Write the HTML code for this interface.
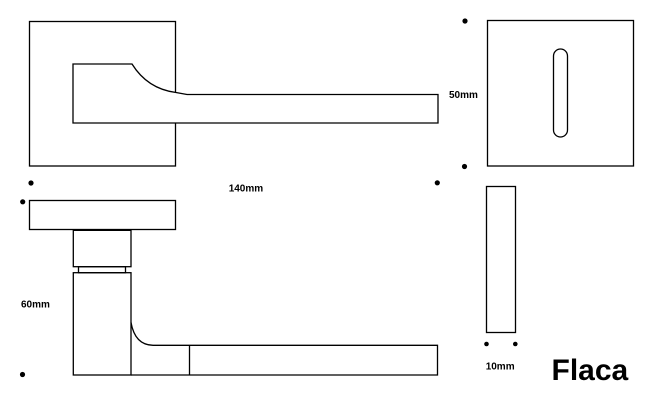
<!DOCTYPE html>
<html>
<head>
<meta charset="utf-8">
<style>
html,body{margin:0;padding:0;background:#fff;}
svg{display:block;}
text{font-family:"Liberation Sans",Arial,sans-serif;font-weight:bold;fill:#000;}
</style>
</head>
<body>
<svg width="650" height="400" viewBox="0 0 650 400" xmlns="http://www.w3.org/2000/svg">
<g fill="none" stroke="#000" stroke-width="1.3">
  <!-- top-left rose -->
  <rect x="29.5" y="21.5" width="146" height="144.5" fill="#fff"/>
  <!-- lever top view -->
  <path d="M73,64 L132,64 C142,80 156,90 176,92.5 L187,94.5 L438,94.5 L438,123 L73,123 Z" fill="#fff"/>
  <!-- top-right escutcheon -->
  <rect x="487.5" y="20.5" width="146" height="145.5"/>
  <rect x="553.5" y="49" width="14" height="88" rx="7" ry="7"/>
  <!-- side view rose bar -->
  <rect x="29.5" y="200.5" width="146" height="29"/>
  <!-- neck -->
  <rect x="73.3" y="230" width="57.7" height="36.7"/>
  <line x1="73.3" y1="230" x2="131" y2="230" stroke-width="2"/>
  <!-- collar -->
  <rect x="78.5" y="266.7" width="47" height="6"/>
  <!-- lower body -->
  <rect x="73.3" y="272.7" width="57.7" height="102.3"/>
  <!-- lever side -->
  <path d="M131,322.5 Q135,345 153,345.3 L437.5,345.3 L437.5,375 L131,375"/>
  <line x1="189.5" y1="345.3" x2="189.5" y2="375"/>
  <!-- right narrow rect -->
  <rect x="486.5" y="186.5" width="29" height="146"/>
</g>
<g fill="#000">
  <circle cx="465" cy="21" r="2.6"/>
  <circle cx="464.5" cy="166.5" r="2.6"/>
  <circle cx="437.3" cy="182.8" r="2.6"/>
  <circle cx="31" cy="183" r="2.6"/>
  <circle cx="22.7" cy="201.8" r="2.6"/>
  <circle cx="22.5" cy="374.5" r="2.6"/>
  <circle cx="486.5" cy="344" r="2.3"/>
  <circle cx="515.3" cy="344" r="2.3"/>
</g>
<text x="228.7" y="191.3" font-size="10">140mm</text>
<text x="449" y="97.8" font-size="10">50mm</text>
<text x="21" y="307.4" font-size="10">60mm</text>
<text x="485.7" y="369.4" font-size="10">10mm</text>
<text x="551.5" y="380" font-size="30">Flaca</text>
</svg>
</body>
</html>
